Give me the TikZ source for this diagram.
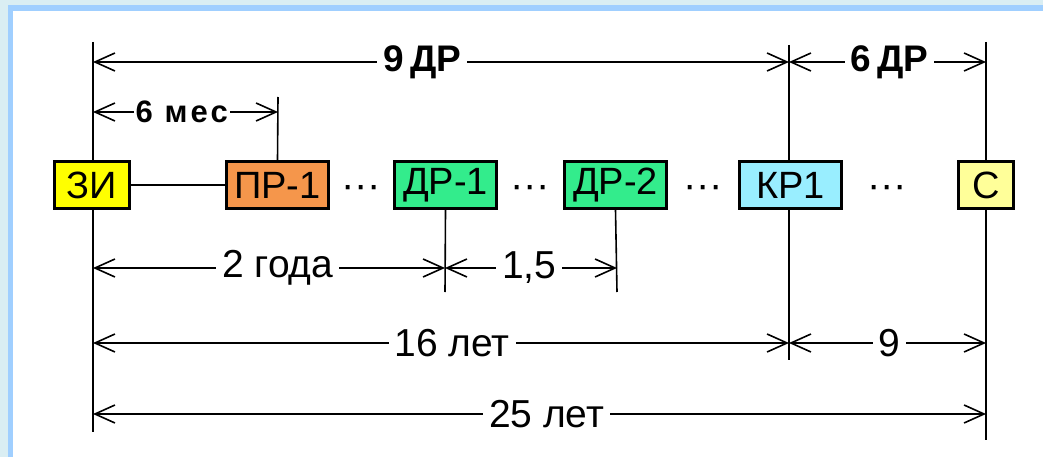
\documentclass[tikz,border=0pt]{standalone}
\usepackage{fontspec}
\setmainfont{Liberation Sans}
\usetikzlibrary{arrows.meta}
\definecolor{outerbg}{HTML}{DAEEF3}
\definecolor{framebl}{HTML}{A0CFFF}
\definecolor{ziyel}{HTML}{FFFF00}
\definecolor{prorg}{HTML}{F5964B}
\definecolor{drgrn}{HTML}{33EC8C}
\definecolor{krcyn}{HTML}{99EEFF}
\definecolor{slyel}{HTML}{FFFF99}
\tikzset{
  box/.style={draw=black, line width=3pt, minimum height=47pt, inner sep=0pt, font=\fontsize{38}{40}\selectfont},
  vline/.style={draw=black, line width=1.6pt},
  dimline/.style={draw=black, line width=1.6pt, {Straight Barb[length=20pt,width=18pt,line width=1.6pt]}-{Straight Barb[length=20pt,width=18pt,line width=1.6pt]}},
  lbl/.style={fill=white, inner xsep=6pt, inner ysep=1pt, font=\fontsize{39}{41}\selectfont},
  blbl/.style={fill=white, inner xsep=6pt, inner ysep=1pt, font=\fontsize{37}{39}\selectfont\bfseries},
  dots/.style={inner sep=0pt, font=\fontsize{40}{42}\selectfont},
}
\begin{document}
\begin{tikzpicture}[x=1pt,y=-1pt]
\useasboundingbox (0,0) rectangle (1043,457);
\fill[outerbg] (0,0) rectangle (1043,457);
\fill[framebl] (8,5) rectangle (1043,457);
\fill[white] (13,11) rectangle (1043,457);

% coordinates
\coordinate (zt) at (93,42);   \coordinate (zb) at (93,432);
\coordinate (pt) at (278,97);
\coordinate (d1b) at (445,292);
\coordinate (d2b) at (617,292);
\coordinate (kt) at (789,45);  \coordinate (kb) at (789,360);
\coordinate (st) at (986,42);  \coordinate (sb) at (986,440);

\coordinate (a1) at (93,62);  \coordinate (a2) at (789,62);  \coordinate (a3) at (986,62);
\coordinate (b1) at (93,112); \coordinate (b2) at (278,112);
\coordinate (c1) at (93,268); \coordinate (c2) at (445,268); \coordinate (c3) at (617,268);
\coordinate (e1) at (93,343); \coordinate (e2) at (789,343); \coordinate (e3) at (986,343);
\coordinate (f1) at (93,414); \coordinate (f2) at (986,414);

% long vertical lines
\draw[vline] (zt) -- (zb);
\draw[vline] (kt) -- (kb);
\draw[vline] (st) -- (sb);

% boxes
\node[box, fill=ziyel, minimum width=75pt] (zi) at (92,185) {ЗИ};
\node[box, fill=prorg, minimum width=102pt] (pr) at (277.5,185) {ПР-1};
\node[box, fill=drgrn, minimum width=102pt] (dr1) at (445.5,185) {ДР-1};
\node[box, fill=drgrn, minimum width=102pt] (dr2) at (615.5,185) {ДР-2};
\node[box, fill=krcyn, minimum width=102pt] (kr) at (790.5,185) {КР1};
\node[box, fill=slyel, minimum width=55pt] (s) at (986,185) {С};

% short vertical lines
\draw[vline] (pt) -- (pr.north);
\draw[vline] (dr1.south) -- (d1b);
\draw[vline] (dr2.south) -- (d2b);

% connection
\draw[vline] (zi.east) -- (pr.west);

% dots
\node[dots] (dt1) at (361,192) {···};
\node[dots] (dt2) at (530,192) {···};
\node[dots] (dt3) at (703,192) {···};
\node[dots] (dt4) at (887,192) {···};

% dimension lines
\draw[dimline] (a1) -- node[blbl, pos=0.473] (l9dr) {9\,ДР} (a2);
\draw[dimline] (a2) -- node[blbl, pos=0.51] (l6dr) {6\,ДР} (a3);
\draw[dimline] (b1) -- node[pos=0.48, fill=white, inner xsep=2pt, inner ysep=1pt, font=\fontsize{31}{33}\selectfont\bfseries\addfontfeature{LetterSpace=10}] (l6m) {6 мес} (b2);
\draw[dimline] (c1) -- node[lbl, pos=0.525] (l2g) {2 года} (c2);
\draw[dimline] (c2) -- node[lbl, pos=0.49] (l15) {1,5} (c3);
\draw[dimline] (e1) -- node[lbl, pos=0.516] (l16) {16 лет} (e2);
\draw[dimline] (e2) -- node[lbl, pos=0.51] (l9) {9} (e3);
\draw[dimline] (f1) -- node[lbl, pos=0.508] (l25) {25 лет} (f2);
\end{tikzpicture}
\end{document}
